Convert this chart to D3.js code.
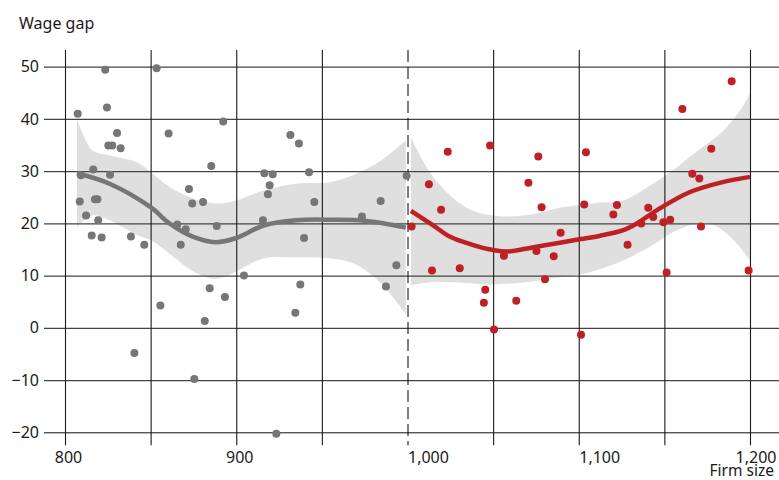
<!DOCTYPE html>
<html>
<head>
<meta charset="utf-8">
<script src="https://cdn.jsdelivr.net/npm/d3@7"></script>
<style>
  body { margin: 0; background: #fff; }
  svg { display: block; font-family: "Noto Sans", sans-serif; }
</style>
</head>
<body>
<svg id="chart" width="779" height="480"></svg>
<script>
// Scatter points, below 1,000 (grey) and above (red)
const grayX = [807.4, 823.5, 824.5, 830.4, 825.3, 827.6, 832.5, 853.5, 860.5, 892.4,
  809.3, 816.5, 826.3, 808.6, 817.5, 818.9, 812.3, 819.4, 815.6, 821.4,
  838.5, 846.3, 885.4, 872.4, 874.3, 880.6, 865.6, 870.5, 867.6, 888.6,
  904.5, 884.5, 893.4, 855.7, 881.6, 840.5, 875.5, 931.6, 936.6, 916.4,
  921.3, 942.5, 919.5, 918.5, 945.6, 915.6, 973.4, 984.3, 999.5, 939.6,
  937.4, 934.5, 993.5, 987.4, 923.4];
const grayY = [41.0, 49.4, 42.2, 37.3, 34.9, 34.9, 34.4, 49.7, 37.2, 39.5,
  29.2, 30.3, 29.3, 24.2, 24.6, 24.6, 21.5, 20.6, 17.7, 17.3,
  17.5, 15.9, 31.0, 26.6, 23.8, 24.1, 19.8, 18.9, 15.9, 19.5,
  10.0, 7.6, 5.9, 4.3, 1.3, -4.8, -9.8, 36.9, 35.3, 29.6,
  29.4, 29.8, 27.3, 25.6, 24.1, 20.6, 21.3, 24.3, 29.1, 17.2,
  8.3, 2.9, 12.0, 7.9, -20.3];

const redX = [1023.5, 1048.2, 1076.4, 1104.2, 1012.5, 1070.6, 1019.6, 1078.3, 1103.2, 1002.4,
  1089.4, 1056.3, 1075.3, 1085.4, 1014.3, 1030.5, 1080.3, 1045.4, 1044.6, 1063.5,
  1050.5, 1101.3, 1189.3, 1160.5, 1177.4, 1166.3, 1170.4, 1122.3, 1120.2, 1140.6,
  1143.5, 1136.5, 1149.4, 1153.4, 1171.4, 1128.5, 1151.3, 1199.2];
const redY = [33.7, 34.9, 32.8, 33.6, 27.5, 27.8, 22.6, 23.1, 23.6, 19.4,
  18.2, 13.8, 14.7, 13.7, 11.0, 11.4, 9.3, 7.3, 4.8, 5.2,
  -0.3, -1.3, 47.2, 41.9, 34.3, 29.5, 28.6, 23.5, 21.7, 23.0,
  21.2, 20.0, 20.2, 20.7, 19.4, 15.9, 10.6, 11.0];

// Smoothed fits
const grayFitX = [807, 826, 850, 861, 875, 888, 900, 916, 935, 955, 975, 999];
const grayFit = [29.6, 27.6, 23.1, 20.0, 17.4, 16.4, 17.2, 19.6, 20.6, 20.7, 20.5, 19.2];
const grayBandX = [807, 816, 826, 842, 850, 861, 875, 888, 900, 916, 935, 955, 968, 984, 999];
const grayUpper = [40.0, 34.0, 33.0, 31.7, 29.8, 27.0, 24.7, 23.8, 24.4, 26.3, 27.6, 27.9, 29.2, 31.9, 35.9];
const grayLower = [19.3, 21.5, 20.6, 17.8, 16.8, 14.2, 10.8, 9.4, 10.8, 13.3, 13.5, 13.3, 12.4, 8.7, 2.6];

const redFitX = [1002, 1015, 1024, 1034, 1044, 1050, 1058, 1073, 1089, 1101, 1112, 1126, 1134, 1146, 1165, 1184, 1200];
const redFit = [22.4, 19.6, 17.6, 16.3, 15.3, 14.9, 14.6, 15.4, 16.3, 17.0, 17.6, 18.7, 20.0, 22.6, 26.0, 27.9, 28.9];
const redBandX = [1002, 1015, 1034, 1050, 1070, 1089, 1101, 1112, 1126, 1142, 1155, 1167, 1176, 1184, 1194, 1200];
const redUpper = [36.5, 28.9, 23.1, 21.5, 21.6, 23.0, 23.5, 24.0, 24.4, 27.3, 30.2, 33.3, 35.5, 37.6, 41.5, 44.8];
const redLower = [8.2, 8.8, 8.6, 8.3, 8.8, 9.7, 10.2, 11.2, 12.9, 15.6, 18.3, 19.9, 20.0, 18.7, 15.5, 12.9];

const xTicks = [800, 850, 900, 950, 1000, 1050, 1100, 1150, 1200];
const xLabels = [800, 900, 1000, 1100, 1200];
const yTicks = [-20, -10, 0, 10, 20, 30, 40, 50];

const grayColor = "#767676";
const redColor = "#bf2026";
const bandColor = "#dfdfdf";

const svg = d3.select("#chart");
const W = 779;

const x = d3.scaleLinear().domain([800, 1200]).range([65, 750]);
const y = d3.scaleLinear().domain([-20, 50]).range([432.3, 66.7]);

const curve = d3.curveCatmullRom.alpha(0.5);

// Confidence bands
const area = d3.area()
    .x(d => x(d[0]))
    .y0(d => y(d[1]))
    .y1(d => y(d[2]))
    .curve(curve);

svg.append("path")
    .datum(grayBandX.map((v, i) => [v, grayLower[i], grayUpper[i]]))
    .attr("d", area)
    .attr("fill", bandColor);

svg.append("path")
    .datum(redBandX.map((v, i) => [v, redLower[i], redUpper[i]]))
    .attr("d", area)
    .attr("fill", bandColor);

// Horizontal grid + y labels
const yAxis = svg.append("g")
    .attr("transform", "translate(" + x(800) + ",0)")
    .call(d3.axisLeft(y)
        .tickValues(yTicks)
        .tickSize(-(W - x(800)))
        .tickPadding(26)
        .tickFormat(d3.format("d")));
yAxis.select(".domain").remove();
yAxis.selectAll("line")
    .attr("x1", -21)
    .attr("stroke", d => d === -20 ? "#111" : "#444")
    .attr("stroke-width", d => d === -20 ? 1 : 1.3);
yAxis.selectAll("text")
    .attr("font-family", "Noto Sans, sans-serif")
    .attr("font-size", 16)
    .attr("fill", "#1a1a1a")
    .text(d => d < 0 ? "\u2212" + Math.abs(d) : d);

// Vertical grid + x labels
const xAxis = svg.append("g")
    .attr("transform", "translate(0," + y(-20) + ")")
    .call(d3.axisBottom(x)
        .tickValues(xTicks)
        .tickSize(13)
        .tickPadding(6.5)
        .tickFormat(d => xLabels.includes(d) ? d3.format(",")(d) : ""));
xAxis.select(".domain").remove();
xAxis.selectAll("line")
    .attr("y1", -(y(-20) - 50))
    .attr("stroke", d => d === 1000 ? "#000" : "#1a1a1a")
    .attr("stroke-width", d => d === 1000 ? 1 : 1.1)
    .attr("stroke-dasharray", d => d === 1000 ? "12,5" : null);
xAxis.selectAll("text")
    .attr("font-family", "Noto Sans, sans-serif")
    .attr("font-size", 16)
    .attr("fill", "#1a1a1a")
    .attr("text-anchor", d => d >= 1000 ? "start" : "middle")
    .attr("dx", d => d >= 1000 ? 0 : 3);
// keep the last label inside the frame
xAxis.selectAll("text").each(function(d) {
  const bb = this.getBBox();
  const right = x(d) + bb.x + bb.width;
  if (right > W - 3) d3.select(this).attr("dx", -(right - (W - 3)));
});

// Fitted lines
const line = d3.line()
    .x(d => x(d[0]))
    .y(d => y(d[1]))
    .curve(curve);

svg.append("path")
    .datum(grayFitX.map((v, i) => [v, grayFit[i]]))
    .attr("d", line)
    .attr("fill", "none")
    .attr("stroke", grayColor)
    .attr("stroke-width", 4.5);

svg.append("path")
    .datum(redFitX.map((v, i) => [v, redFit[i]]))
    .attr("d", line)
    .attr("fill", "none")
    .attr("stroke", redColor)
    .attr("stroke-width", 4.5);

// Points
svg.append("g").selectAll("circle")
    .data(grayX.map((v, i) => [v, grayY[i]]))
    .enter().append("circle")
    .attr("cx", d => x(d[0]))
    .attr("cy", d => y(d[1]))
    .attr("r", 4)
    .attr("fill", grayColor);

svg.append("g").selectAll("circle")
    .data(redX.map((v, i) => [v, redY[i]]))
    .enter().append("circle")
    .attr("cx", d => x(d[0]))
    .attr("cy", d => y(d[1]))
    .attr("r", 4)
    .attr("fill", redColor);

// Titles
svg.append("text")
    .attr("x", 19)
    .attr("y", 29)
    .attr("font-size", 16)
    .attr("fill", "#1a1a1a")
    .text("Wage gap");

svg.append("text")
    .attr("x", 774)
    .attr("y", 476)
    .attr("text-anchor", "end")
    .attr("font-size", 15.5)
    .attr("fill", "#1a1a1a")
    .text("Firm size");
</script>
</body>
</html>
